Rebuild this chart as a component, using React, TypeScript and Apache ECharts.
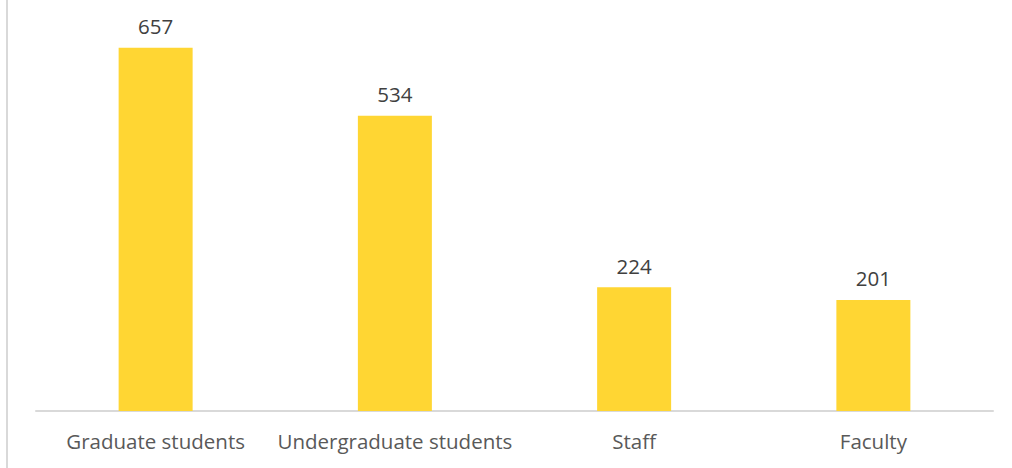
import React, { useEffect, useRef } from "react";
import * as echarts from "echarts";

const categories = ["Graduate students", "Undergraduate students", "Staff", "Faculty"];
const values = [657, 534, 224, 201];

export default function App() {
  const ref = useRef<HTMLDivElement>(null);
  useEffect(() => {
    const chart = echarts.init(ref.current!, null, { renderer: "svg" });
    chart.setOption({
      animation: false,
      backgroundColor: "#ffffff",
      textStyle: { fontFamily: "Open Sans" },
      grid: { left: 36, right: 19, top: 24, bottom: 57 },
      graphic: [
        { type: "rect", shape: { x: 6, y: 0, width: 2, height: 468 }, style: { fill: "#d9d9d9" } },
      ],
      xAxis: {
        type: "category",
        data: categories,
        axisLine: { lineStyle: { color: "#d9d9d9", width: 2 } },
        axisTick: { show: false },
        axisLabel: { color: "#595959", fontSize: 20.5, margin: 19, interval: 0 },
      },
      yAxis: {
        type: "value",
        min: 0,
        max: 700,
        show: false,
      },
      series: [
        {
          type: "bar",
          data: values,
          barWidth: 74,
          itemStyle: { color: "#FFD633" },
          label: { show: true, position: "top", distance: 11, color: "#404040", fontSize: 20.5 },
        },
      ],
    });
    return () => chart.dispose();
  }, []);
  return <div ref={ref} style={{ position: "absolute", left: 0, top: 0, width: 1012, height: 468 }} />;
}
